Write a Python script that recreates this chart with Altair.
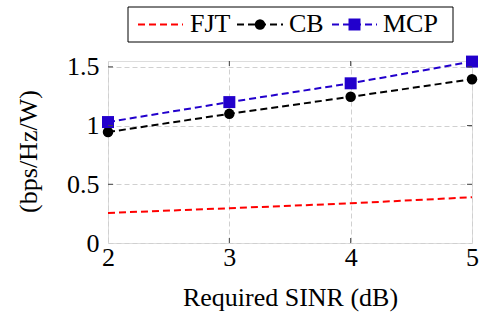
import altair as alt
import pandas as pd

sinr = [2, 3, 4, 5]
fjt = [0.256, 0.296, 0.338, 0.39]
cb = [0.945, 1.10, 1.245, 1.395]
mcp = [1.03, 1.20, 1.36, 1.545]
series_names = ["FJT", "CB", "MCP"]
series_colors = ["#ff0000", "#000000", "#2200cc"]
series_shapes = [None, "circle", "square"]
x_ticks = [2, 3, 4, 5]
y_ticks = [0, 0.5, 1, 1.5]

FONT = "Liberation Serif"
FS = 26
W, H = 364, 182

rows = []
for name, vals in zip(series_names, [fjt, cb, mcp]):
    for x, v in zip(sinr, vals):
        rows.append({"sinr": x, "ee": v, "series": name})
df = pd.DataFrame(rows)

xscale = alt.Scale(domain=[2, 5], nice=False, zero=False)
yscale = alt.Scale(domain=[0, 1.55], nice=False, zero=False)

xaxis = alt.Axis(values=x_ticks, format="d", title="Required SINR (dB)",
                 labelPadding=1, titleBaseline="alphabetic", titleY=62, titleX=W / 2)
yaxis = alt.Axis(values=y_ticks, format="~g", title="(bps/Hz/W)",
                 labelPadding=9, titleAngle=270, titleBaseline="middle", titleAlign="center",
                 titleX=-80, titleY=90)


def X(field):
    return alt.X(field, scale=xscale, axis=xaxis)


def Y(field):
    return alt.Y(field, scale=yscale, axis=yaxis)


base = alt.Chart(df)
layers = []
for name, col, shp in zip(series_names, series_colors, series_shapes):
    sub = base.transform_filter(alt.datum.series == name)
    layers.append(sub.mark_line(color=col, strokeWidth=2, strokeDash=[7, 4], clip=False)
                  .encode(x=X("sinr:Q"), y=Y("ee:Q")))
    if shp:
        size = 110 if shp == "circle" else 144
        layers.append(sub.mark_point(shape=shp, filled=True, color=col, size=size, opacity=1, clip=False)
                      .encode(x=X("sinr:Q"), y=Y("ee:Q")))

# inner tick marks (pgfplots style)
tx = pd.DataFrame({"t": x_ticks[1:-1]})
ty = pd.DataFrame({"t": y_ticks[1:]})
tick_col = "#444"
for y0, y1 in [(H, H - 5), (0, 5)]:
    layers.append(alt.Chart(tx).mark_rule(color=tick_col, strokeWidth=1)
                  .encode(x=X("t:Q"), y=alt.value(y0), y2=alt.value(y1)))
for x0, x1 in [(0, 5), (W, W - 5)]:
    layers.append(alt.Chart(ty).mark_rule(color=tick_col, strokeWidth=1)
                  .encode(y=Y("t:Q"), x=alt.value(x0), x2=alt.value(x1)))

# manual legend (layout positions in pixels, relative to plot origin)
one = pd.DataFrame({"a": [0]})
LY = -36.5
layers.append(alt.Chart(one).mark_rect(fill="white", stroke="black", strokeWidth=1)
              .encode(x=alt.value(20), x2=alt.value(345), y=alt.value(-54), y2=alt.value(-19)))
leg_line = [(30, 75), (129, 175), (224, 269)]
leg_text_x = [82, 181, 275]
for (x0, x1), tx0, name, col, shp in zip(leg_line, leg_text_x, series_names, series_colors, series_shapes):
    layers.append(alt.Chart(one).mark_rule(color=col, strokeWidth=2, strokeDash=[7, 4])
                  .encode(x=alt.value(x0), x2=alt.value(x1), y=alt.value(LY)))
    if shp:
        size = 110 if shp == "circle" else 144
        layers.append(alt.Chart(one).mark_point(shape=shp, filled=True, color=col, size=size, opacity=1)
                      .encode(x=alt.value((x0 + x1) / 2), y=alt.value(LY)))
    layers.append(alt.Chart(one).mark_text(text=name, font=FONT, fontSize=FS, align="left",
                                           baseline="alphabetic", color="black")
                  .encode(x=alt.value(tx0), y=alt.value(-29)))

chart = alt.layer(*layers).properties(
    width=W, height=H,
    autosize=alt.AutoSizeParams(type="none"),
    padding={"left": 108, "top": 61, "right": 7, "bottom": 79},
).configure_view(stroke="black", strokeWidth=1).configure(background="white", font=FONT).configure_axis(
    grid=True, gridDash=[5, 3], gridColor="#d0d0d0",
    ticks=False, domain=False, labelFlush=False, labelOverlap=False, labelBound=False,
    labelFont=FONT, labelFontSize=FS, labelColor="#000",
    titleFont=FONT, titleFontSize=FS, titleFontWeight="normal", titleColor="#000",
)

chart.save("out.html", embed_options={"renderer": "svg", "actions": False})
